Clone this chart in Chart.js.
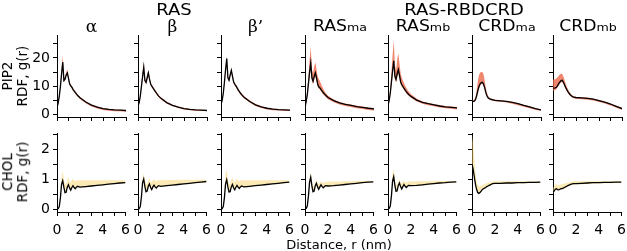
<!DOCTYPE html>
<html><head><meta charset="utf-8">
<script src="https://cdn.jsdelivr.net/npm/chart.js@4"></script>
<style>
html,body{margin:0;padding:0;background:#fff;}
#wrap{position:relative;width:627px;height:251px;overflow:hidden;background:#fff;font-family:"DejaVu Sans",sans-serif;color:#000;}
canvas{position:absolute;}
.t{position:absolute;white-space:nowrap;line-height:1;transform:translate(-50%,-50%);}
</style></head><body><div id="wrap"></div>
<script>
// distance grid (nm)
const R = [0,0.1,0.2,0.3,0.4,0.5,0.6,0.7,0.8,0.9,1.0,1.1,1.2,1.3,1.4,1.5,1.6,1.7,1.8,2.0,2.5,3.0,3.5,4.0,4.5,5.0,5.5,6.0];

const GROUP_TITLES = ['RAS','RAS-RBDCRD'];
const PANEL_MAIN = ['α','β','β’','RAS','RAS','CRD','CRD'];
const PANEL_SUB  = ['','','','ma','mb','ma','mb'];
const ROW_LABELS = [['PIP2','RDF, g(r)'],['CHOL','RDF, g(r)']];
const X_LABEL = 'Distance, r (nm)';

// PIP2 RDF: mean, upper, lower
const PIP2_A_MEAN = [2.5,4.0,6.5,10.0,14.5,18.6,12.0,12.5,14.0,14.7,12.8,10.8,10.1,9.6,8.8,8.3,7.7,7.2,6.7,5.9,4.4,3.3,2.6,2.1,1.8,1.6,1.5,1.4];
const PIP2_A_HI   = [2.8,4.4,7.1,11.0,16.0,21.1,13.0,13.3,15.0,15.9,13.6,11.4,10.6,10.1,9.3,8.7,8.1,7.6,7.1,6.2,4.7,3.5,2.8,2.3,2.0,1.8,1.7,1.6];
const PIP2_A_LO   = [2.2,3.6,6.0,9.4,13.9,18.0,11.5,12.0,13.5,14.2,12.3,10.4,9.7,9.2,8.4,7.9,7.3,6.8,6.3,5.5,4.0,2.8,2.1,1.6,1.3,1.1,1.1,1.0];

const PIP2_B_MEAN = [3.0,4.2,6.5,10.0,13.5,16.7,12.0,11.3,13.0,14.7,12.5,10.8,10.0,9.4,8.8,8.2,7.6,7.0,6.5,5.7,4.2,3.2,2.6,2.1,1.8,1.6,1.5,1.4];
const PIP2_B_HI   = [3.3,4.6,7.1,11.0,15.0,18.8,12.8,12.0,14.0,15.7,13.3,11.4,10.5,9.9,9.2,8.6,8.0,7.4,6.9,6.0,4.5,3.4,2.8,2.3,2.0,1.8,1.7,1.6];
const PIP2_B_LO   = [2.7,3.8,6.0,9.4,13.0,16.0,11.5,10.9,12.5,14.2,12.0,10.4,9.6,9.0,8.4,7.8,7.2,6.6,6.1,5.3,3.9,2.9,2.3,1.8,1.5,1.3,1.2,1.2];

const PIP2_BP_MEAN = [3.5,5.0,7.5,11.5,16.0,19.8,13.0,12.1,14.0,15.6,13.5,11.5,10.7,10.1,9.4,8.7,8.1,7.5,7.0,6.1,4.6,3.4,2.7,2.2,1.9,1.7,1.6,1.5];
const PIP2_BP_HI   = [3.8,5.4,8.0,12.2,17.0,20.5,13.6,12.7,14.7,16.5,14.1,12.0,11.2,10.6,9.8,9.1,8.5,7.9,7.4,6.5,4.9,3.7,2.9,2.4,2.1,1.9,1.8,1.7];
const PIP2_BP_LO   = [3.2,4.6,7.0,11.0,15.5,19.2,12.5,11.6,13.5,15.0,13.0,11.0,10.2,9.6,8.9,8.2,7.6,7.0,6.5,5.7,4.2,3.0,2.3,1.8,1.5,1.4,1.3,1.2];

const PIP2_RMA_MEAN = [2.5,4.5,7.0,11.0,15.0,18.2,13.0,11.8,13.5,14.7,13.0,10.8,9.8,9.4,8.8,8.2,7.7,7.2,6.8,6.0,4.9,4.1,3.6,3.2,2.8,2.5,2.2,2.0];
const PIP2_RMA_HI   = [2.8,5.2,8.5,13.5,19.5,24.0,16.0,14.5,17.0,18.5,16.0,13.5,12.5,11.8,10.8,9.8,9.0,8.2,7.6,6.6,5.3,4.4,3.9,3.5,3.1,2.8,2.5,2.3];
const PIP2_RMA_LO   = [2.2,4.0,6.3,10.0,13.5,16.5,11.8,10.8,12.3,13.4,11.8,10.0,9.2,8.8,8.2,7.6,7.1,6.6,6.2,5.4,4.3,3.5,3.0,2.6,2.2,1.9,1.6,1.4];

const PIP2_RMB_MEAN = [3.1,5.0,7.5,11.5,15.5,19.0,13.5,12.4,14.5,15.9,13.8,11.5,10.5,9.9,9.2,8.6,8.0,7.5,7.1,6.4,5.1,4.3,3.8,3.4,3.0,2.7,2.5,2.3];
const PIP2_RMB_HI   = [3.4,6.0,9.5,15.0,21.0,26.4,17.5,15.5,19.5,21.7,18.0,14.5,13.0,12.0,11.0,10.2,9.4,8.7,8.1,7.2,5.6,4.6,4.1,3.7,3.3,3.0,2.8,2.6];
const PIP2_RMB_LO   = [2.8,4.5,6.8,10.5,14.0,17.0,12.3,11.4,13.2,14.5,12.7,10.7,9.8,9.3,8.6,8.0,7.5,7.0,6.6,5.9,4.6,3.8,3.3,2.9,2.5,2.2,2.0,1.8];

const PIP2_CMA_MEAN = [4.6,4.6,4.7,5.2,6.5,8.3,9.8,10.8,11.3,11.4,10.8,9.5,7.8,6.6,5.9,5.6,5.4,5.3,5.2,5.0,4.8,4.6,4.3,3.8,3.2,2.7,2.1,1.6];
const PIP2_CMA_HI   = [4.8,4.9,5.2,6.2,8.5,11.5,13.8,14.8,15.0,15.0,14.2,12.0,9.5,7.6,6.5,6.0,5.7,5.6,5.5,5.3,5.0,4.8,4.5,4.0,3.4,2.9,2.3,1.8];
const PIP2_CMA_LO   = [4.4,4.4,4.5,4.9,6.0,7.6,9.2,10.2,10.7,10.8,10.2,8.8,7.2,6.2,5.6,5.3,5.1,5.0,4.9,4.7,4.5,4.2,3.8,3.3,2.7,2.2,1.7,1.2];

const PIP2_CMB_MEAN = [9.3,9.3,9.4,9.6,10.2,10.9,11.5,12.0,12.1,11.5,10.5,9.6,8.8,8.1,7.5,7.0,6.6,6.3,6.1,6.0,5.9,5.7,5.4,4.9,4.4,3.7,2.9,2.1];
const PIP2_CMB_HI   = [12.4,12.4,12.5,12.8,13.2,13.7,14.2,14.4,14.3,13.5,12.2,11.0,9.8,8.9,8.1,7.5,7.0,6.7,6.4,6.2,6.1,6.0,5.6,5.1,4.6,3.9,3.1,2.3];
const PIP2_CMB_LO   = [8.4,8.5,8.7,9.0,9.6,10.3,10.9,11.3,11.4,10.9,9.9,9.0,8.2,7.6,7.0,6.6,6.2,5.9,5.7,5.5,5.4,5.2,4.9,4.4,3.9,3.2,2.4,1.6];

// CHOL RDF: mean, upper, lower
const CHOL_A_MEAN = [0.02,0.03,0.10,0.40,0.85,0.97,0.75,0.57,0.58,0.75,0.83,0.72,0.65,0.74,0.80,0.74,0.70,0.75,0.78,0.75,0.77,0.79,0.81,0.83,0.85,0.87,0.89,0.90];
const CHOL_A_HI   = [0.03,0.05,0.15,0.60,1.15,1.30,1.00,0.85,0.85,1.00,1.08,0.95,0.90,0.98,1.03,0.97,0.95,0.97,0.98,0.98,0.98,0.98,0.98,0.98,0.98,0.98,0.98,0.98];
const CHOL_A_LO   = [0.01,0.02,0.08,0.36,0.80,0.92,0.71,0.54,0.55,0.71,0.79,0.69,0.62,0.71,0.77,0.71,0.68,0.73,0.76,0.73,0.75,0.77,0.79,0.81,0.83,0.85,0.87,0.88];

const CHOL_B_MEAN = [0.02,0.03,0.10,0.42,0.90,1.02,0.78,0.60,0.62,0.78,0.86,0.74,0.67,0.76,0.82,0.76,0.72,0.77,0.80,0.78,0.80,0.82,0.84,0.86,0.88,0.90,0.92,0.94];
const CHOL_B_HI   = [0.03,0.05,0.15,0.58,1.06,1.20,0.98,0.86,0.86,0.98,1.05,0.95,0.90,0.98,1.02,0.97,0.95,0.97,0.99,0.98,0.99,0.99,1.00,1.00,1.00,1.00,1.00,1.00];
const CHOL_B_LO   = [0.01,0.02,0.08,0.38,0.85,0.97,0.74,0.57,0.59,0.74,0.82,0.71,0.64,0.73,0.79,0.73,0.70,0.75,0.78,0.76,0.78,0.80,0.82,0.84,0.86,0.88,0.90,0.92];

const CHOL_BP_MEAN = [0.02,0.03,0.10,0.40,0.86,1.00,0.76,0.59,0.60,0.76,0.84,0.73,0.66,0.75,0.81,0.75,0.71,0.76,0.79,0.76,0.78,0.80,0.82,0.84,0.86,0.88,0.90,0.92];
const CHOL_BP_HI   = [0.03,0.05,0.16,0.65,1.20,1.36,1.02,0.86,0.86,1.00,1.08,0.96,0.90,0.98,1.03,0.97,0.95,0.97,0.98,0.98,0.98,0.98,0.98,0.98,0.98,0.98,0.98,0.98];
const CHOL_BP_LO   = [0.01,0.02,0.08,0.36,0.81,0.95,0.72,0.56,0.57,0.72,0.80,0.70,0.63,0.72,0.78,0.72,0.69,0.74,0.77,0.74,0.76,0.78,0.80,0.82,0.84,0.86,0.88,0.90];

const CHOL_RMA_MEAN = [0.02,0.04,0.12,0.45,0.92,1.08,0.80,0.60,0.62,0.80,0.88,0.76,0.68,0.76,0.83,0.77,0.73,0.77,0.80,0.79,0.80,0.82,0.84,0.86,0.88,0.90,0.92,0.93];
const CHOL_RMA_HI   = [0.03,0.05,0.16,0.58,1.08,1.25,0.95,0.78,0.78,0.93,1.00,0.90,0.84,0.90,0.95,0.91,0.89,0.91,0.93,0.93,0.94,0.94,0.95,0.95,0.96,0.96,0.96,0.96];
const CHOL_RMA_LO   = [0.01,0.03,0.10,0.42,0.88,1.04,0.77,0.58,0.60,0.77,0.85,0.74,0.66,0.74,0.81,0.75,0.71,0.75,0.78,0.77,0.78,0.80,0.82,0.84,0.86,0.88,0.90,0.91];

const CHOL_RMB_MEAN = [0.02,0.04,0.12,0.46,0.95,1.10,0.82,0.61,0.63,0.81,0.89,0.77,0.69,0.77,0.84,0.78,0.74,0.78,0.81,0.80,0.81,0.83,0.85,0.87,0.89,0.90,0.92,0.93];
const CHOL_RMB_HI   = [0.03,0.06,0.18,0.65,1.20,1.36,1.02,0.84,0.82,0.96,1.02,0.92,0.86,0.92,0.97,0.93,0.90,0.92,0.94,0.94,0.95,0.95,0.95,0.96,0.96,0.96,0.96,0.96];
const CHOL_RMB_LO   = [0.01,0.03,0.10,0.43,0.91,1.06,0.79,0.59,0.61,0.78,0.86,0.75,0.67,0.75,0.82,0.76,0.72,0.76,0.79,0.78,0.79,0.81,0.83,0.85,0.87,0.88,0.90,0.91];

const CHOL_CMA_MEAN = [1.52,1.35,1.10,0.85,0.68,0.57,0.54,0.57,0.62,0.67,0.70,0.72,0.74,0.77,0.79,0.81,0.83,0.85,0.87,0.88,0.88,0.89,0.89,0.90,0.90,0.91,0.91,0.92];
const CHOL_CMA_HI   = [2.50,2.20,1.70,1.25,0.95,0.82,0.78,0.78,0.80,0.82,0.84,0.85,0.87,0.88,0.90,0.91,0.92,0.93,0.94,0.95,0.95,0.95,0.95,0.95,0.95,0.95,0.95,0.95];
const CHOL_CMA_LO   = [1.45,1.28,1.05,0.81,0.65,0.55,0.52,0.55,0.60,0.65,0.68,0.70,0.72,0.75,0.77,0.79,0.81,0.83,0.85,0.86,0.86,0.87,0.87,0.88,0.88,0.89,0.89,0.90];

const CHOL_CMB_MEAN = [0.59,0.62,0.68,0.70,0.67,0.66,0.68,0.70,0.70,0.72,0.74,0.76,0.78,0.80,0.82,0.84,0.85,0.86,0.87,0.87,0.88,0.89,0.90,0.90,0.91,0.91,0.92,0.92];
const CHOL_CMB_HI   = [0.72,0.78,0.84,0.86,0.82,0.82,0.83,0.84,0.85,0.86,0.87,0.88,0.89,0.90,0.91,0.92,0.93,0.94,0.95,0.95,0.95,0.95,0.95,0.95,0.95,0.95,0.95,0.95];
const CHOL_CMB_LO   = [0.56,0.59,0.65,0.67,0.64,0.63,0.65,0.67,0.67,0.69,0.71,0.73,0.75,0.77,0.79,0.81,0.82,0.83,0.84,0.84,0.85,0.86,0.87,0.87,0.88,0.88,0.89,0.89];

const PIP2_SERIES = [
  [PIP2_A_MEAN,PIP2_A_HI,PIP2_A_LO],[PIP2_B_MEAN,PIP2_B_HI,PIP2_B_LO],[PIP2_BP_MEAN,PIP2_BP_HI,PIP2_BP_LO],
  [PIP2_RMA_MEAN,PIP2_RMA_HI,PIP2_RMA_LO],[PIP2_RMB_MEAN,PIP2_RMB_HI,PIP2_RMB_LO],
  [PIP2_CMA_MEAN,PIP2_CMA_HI,PIP2_CMA_LO],[PIP2_CMB_MEAN,PIP2_CMB_HI,PIP2_CMB_LO]];
const CHOL_SERIES = [
  [CHOL_A_MEAN,CHOL_A_HI,CHOL_A_LO],[CHOL_B_MEAN,CHOL_B_HI,CHOL_B_LO],[CHOL_BP_MEAN,CHOL_BP_HI,CHOL_BP_LO],
  [CHOL_RMA_MEAN,CHOL_RMA_HI,CHOL_RMA_LO],[CHOL_RMB_MEAN,CHOL_RMB_HI,CHOL_RMB_LO],
  [CHOL_CMA_MEAN,CHOL_CMA_HI,CHOL_CMA_LO],[CHOL_CMB_MEAN,CHOL_CMB_HI,CHOL_CMB_LO]];

// ---------- layout ----------
const wrap = document.getElementById('wrap');
const PL = [57,138,221,305,388,472,553];   // x=0 pixel of each panel
const PW = 69;                              // plot width
const YW = 40, PADR = 10, PADT = 10;
const ROWS = [
  {series:PIP2_SERIES, top:34, h:83, xh:14, min:-0.9, max:28, step:5,
   band:'rgba(236,100,68,0.78)', lab:v=>(v%10===0)?String(v):''},
  {series:CHOL_SERIES, top:132, h:80, xh:32, min:-0.08, max:2.55, step:0.5,
   band:'rgba(248,214,110,0.5)', lab:v=>(Math.abs(v-Math.round(v))<1e-6)?String(Math.round(v)):''}
];
const TICKFONT = {family:'DejaVu Sans', size:14};

function pts(arr){ return R.map((r,k)=>({x:r,y:arr[k]})); }

ROWS.forEach((row,ri)=>{
  row.series.forEach((s,i)=>{
    const c = document.createElement('canvas');
    const W = YW+PW+PADR, H = PADT+row.h+row.xh;
    c.width=W; c.height=H;
    c.style.left=(PL[i]-YW)+'px'; c.style.top=(row.top-PADT)+'px';
    c.style.width=W+'px'; c.style.height=H+'px';
    wrap.appendChild(c);
    const axisCommon = {
      grid:{display:true,drawOnChartArea:false,drawTicks:true,tickLength:4,color:'#000',lineWidth:1},
      border:{display:true,color:'#000',width:1}
    };
    new Chart(c,{
      type:'line',
      data:{datasets:[
        {data:pts(s[0]),borderColor:'#000',borderWidth:1.3,pointRadius:0,tension:0,fill:false},
        {data:pts(s[1]),borderColor:'rgba(0,0,0,0)',borderWidth:0,pointRadius:0,tension:0,backgroundColor:row.band,fill:'+1'},
        {data:pts(s[2]),borderColor:'rgba(0,0,0,0)',borderWidth:0,pointRadius:0,tension:0,fill:false}
      ]},
      options:{
        responsive:false,animation:false,devicePixelRatio:1,events:[],
        plugins:{legend:{display:false},tooltip:{enabled:false}},
        layout:{padding:{left:0,right:PADR,top:PADT,bottom:0}},
        scales:{
          x:Object.assign({type:'linear',min:0,max:6,
            afterFit:sc=>{sc.height=row.xh;},
            ticks:{stepSize:1,autoSkip:false,maxRotation:0,minRotation:0,includeBounds:false,padding:6,
              font:TICKFONT,color:'#000',
              callback:v=>(ri===1 && v%2===0)?String(v):''}},axisCommon),
          y:Object.assign({type:'linear',min:row.min,max:row.max,
            afterFit:sc=>{sc.width=YW;},
            ticks:{stepSize:row.step,autoSkip:false,includeBounds:false,padding:3,
              font:TICKFONT,color:'#000',
              callback:v=>(i===0)?row.lab(v):''}},axisCommon)
        }
      }
    });
  });
});

// ---------- text ----------
function addText(html,x,y,css){
  const d=document.createElement('div');
  d.className='t'; d.innerHTML=html;
  d.style.left=x+'px'; d.style.top=y+'px';
  if(css) d.style.cssText+=css;
  wrap.appendChild(d);
  return d;
}
const groupCenters=[(PL[0]+PL[2]+PW)/2,(PL[3]+PL[6]+PW)/2];
GROUP_TITLES.forEach((t,k)=>addText(t,groupCenters[k],10,'font-size:15px;transform:translate(-50%,-50%) scaleX(1.2);'));
PANEL_MAIN.forEach((t,i)=>{
  const cx=PL[i]+PW/2;
  if(PANEL_SUB[i]===''){
    addText(t,cx,26,'font-family:"DejaVu Serif",serif;font-size:17px;');
  } else {
    addText(t+'<span style="font-size:11px">'+PANEL_SUB[i]+'</span>',cx,26,'font-size:15px;transform:translate(-50%,-50%) scaleX(1.15);');
  }
});
ROW_LABELS.forEach((lines,ri)=>{
  const r=ROWS[ri];
  const cy=r.top+r.h/2;
  addText(lines[0]+'<br>'+lines[1],15,cy,'font-size:13.5px;text-align:center;line-height:1.1;transform:translate(-50%,-50%) rotate(-90deg);');
});
addText(X_LABEL,339,244,'font-size:13px;');
</script></body></html>
